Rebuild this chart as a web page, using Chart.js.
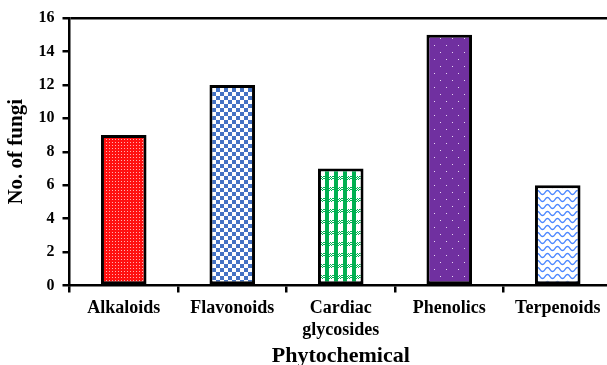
<!DOCTYPE html>
<html>
<head>
<meta charset="utf-8">
<script src="https://cdn.jsdelivr.net/npm/chart.js@4.4.1/dist/chart.umd.min.js"></script>
<style>
  html, body { margin: 0; padding: 0; overflow: hidden; background: #fff; }
  #wrap { width: 612px; height: 365px; }
</style>
</head>
<body>
<div id="wrap"><canvas id="c" width="612" height="365"></canvas></div>
<script>
// ---- data ----
const categories = [['Alkaloids'], ['Flavonoids'], ['Cardiac', 'glycosides'], ['Phenolics'], ['Terpenoids']];
const fungiCounts = [9, 12, 7, 15, 6];
const yMin = 0;
const yMax = 16;
const yStep = 2;
const xTitle = 'Phytochemical';
const yTitle = 'No. of fungi';

// ---- patterns ----
function tile(w, h, draw) {
  const c = document.createElement('canvas');
  c.width = w; c.height = h;
  const g = c.getContext('2d');
  draw(g, w, h);
  return document.getElementById('c').getContext('2d').createPattern(c, 'repeat');
}
const redDots = tile(3, 3, (g) => {
  g.fillStyle = '#ff1010'; g.fillRect(0, 0, 3, 3);
  g.fillStyle = '#ffb0b0'; g.fillRect(1, 1, 1, 1);
});
const blueChecker = tile(8, 8, (g) => {
  g.fillStyle = '#ffffff'; g.fillRect(0, 0, 8, 8);
  g.fillStyle = '#4472c4'; g.fillRect(0, 0, 4, 4); g.fillRect(4, 4, 4, 4);
});
const greenGingham = tile(9, 11, (g) => {
  g.fillStyle = '#ffffff'; g.fillRect(0, 0, 9, 11);
  g.fillStyle = '#00b050';
  g.fillRect(1, 0, 4, 11);
  for (let y = 0; y < 4; y++) for (let x = 0; x < 9; x++) if ((x + y) % 2 === 0) g.fillRect(x, y, 1, 1);
});
const purpleDots = tile(12, 14, (g) => {
  g.fillStyle = '#7030a0'; g.fillRect(0, 0, 12, 14);
  g.fillStyle = '#e6d6f2'; g.fillRect(2, 3, 1, 1); g.fillRect(8, 10, 1, 1);
});
const blueWave = tile(10, 7, (g) => {
  g.fillStyle = '#ffffff'; g.fillRect(0, 0, 10, 7);
  g.strokeStyle = '#4a86ff'; g.lineWidth = 1.3;
  g.beginPath();
  for (let x = -1; x <= 11; x += 0.5) {
    const y = 3.5 + 2 * Math.sin(2 * Math.PI * x / 10);
    if (x === -1) g.moveTo(x, y); else g.lineTo(x, y);
  }
  g.stroke();
});
const fills = [redDots, blueChecker, greenGingham, purpleDots, blueWave];

const serif = "'Liberation Serif', 'Times New Roman', serif";

new Chart(document.getElementById('c'), {
  type: 'bar',
  data: {
    labels: categories,
    datasets: [{
      data: fungiCounts,
      backgroundColor: fills,
      borderColor: '#000',
      borderWidth: 3,
      borderSkipped: false,
      barPercentage: 0.42,
      categoryPercentage: 1
    }]
  },
  options: {
    responsive: false,
    animation: false,
    layout: { padding: { top: 18, right: 0, bottom: 0, left: 0 } },
    plugins: { legend: { display: false }, tooltip: { enabled: false } },
    scales: {
      x: {
        offset: true,
        afterFit: (s) => { s.height = 79.5; },
        grid: { display: true, drawOnChartArea: false, drawTicks: true, tickLength: 7, color: '#000', lineWidth: 2.5, offset: true },
        border: { display: true, color: '#000', width: 2.5 },
        ticks: { color: '#000', padding: 5, maxRotation: 0, font: { family: serif, size: 18, weight: 'bold', lineHeight: 1.2 } },
        title: { display: true, text: xTitle, color: '#000', padding: { top: 0, bottom: 0 }, font: { family: serif, size: 22, weight: 'bold', lineHeight: 0.78 } }
      },
      y: {
        min: yMin, max: yMax,
        afterFit: (s) => { s.width = 69.5; },
        grid: {
          drawOnChartArea: true, drawTicks: true, tickLength: 7, lineWidth: 2.5,
          color: (ctx) => (ctx.tick && ctx.tick.value === yMax) ? '#000' : 'rgba(0,0,0,0)',
          tickColor: '#000'
        },
        border: { display: true, color: '#000', width: 2.5 },
        ticks: { stepSize: yStep, color: '#000', padding: 8, font: { family: serif, size: 16, weight: 'bold' } },
        title: { display: true, text: yTitle, color: '#000', padding: { top: 4, bottom: 0 }, font: { family: serif, size: 21, weight: 'bold', lineHeight: 1.2 } }
      }
    }
  }
});
</script>
</body>
</html>
